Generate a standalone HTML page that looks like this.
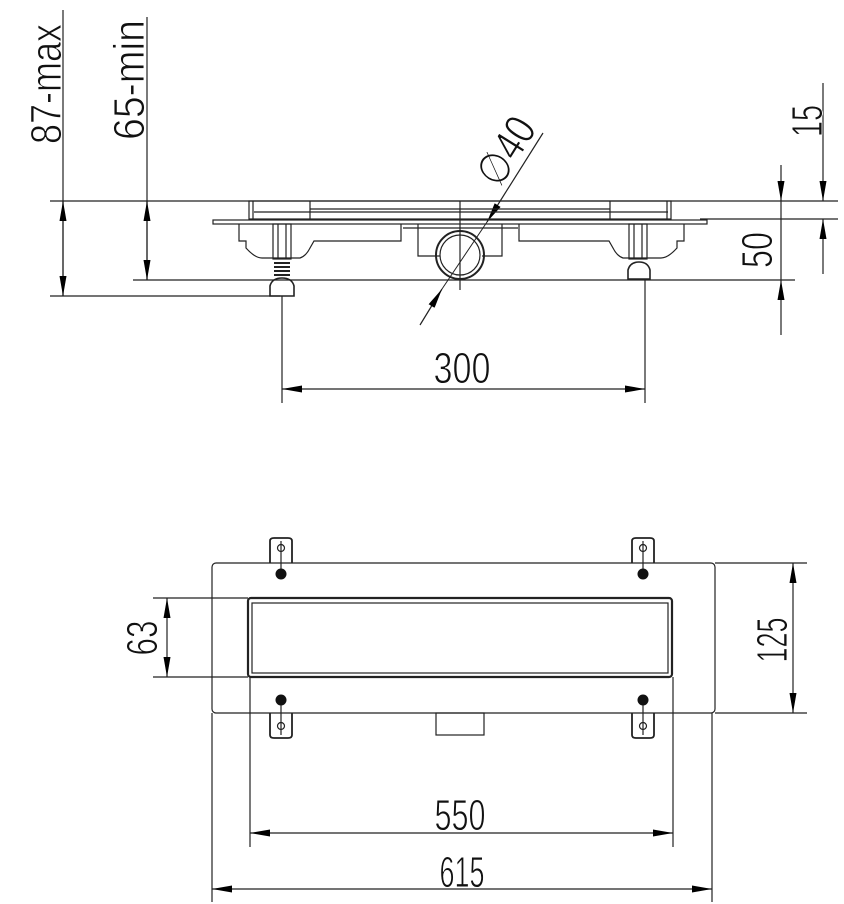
<!DOCTYPE html>
<html><head><meta charset="utf-8"><style>
html,body{margin:0;padding:0;background:#fff;}
svg{display:block;}
text{font-family:"Liberation Sans Narrow","Liberation Sans",sans-serif;fill:#111;stroke:#fff;stroke-width:0.9;}
</style></head><body>
<svg width="844" height="904" viewBox="0 0 844 904" xmlns="http://www.w3.org/2000/svg">
<defs>
<marker id="a" viewBox="0 0 20 7" refX="20" refY="3.5" markerWidth="20" markerHeight="7" markerUnits="userSpaceOnUse" orient="auto-start-reverse">
<path d="M0,0 L20,3.5 L0,7 Z" fill="#000"/></marker>
</defs>
<g stroke="#222" stroke-width="1.2" fill="none">
<line x1="50" y1="201" x2="838" y2="201"/>
<line x1="700" y1="219" x2="838" y2="219"/>
<line x1="50" y1="296" x2="280" y2="296"/>
<line x1="133" y1="280" x2="795" y2="280"/>
<line x1="63" y1="10" x2="63" y2="296"/>
<line x1="147" y1="17" x2="147" y2="280"/>
<line x1="282" y1="296" x2="282" y2="403"/>
<line x1="645" y1="280" x2="645" y2="403"/>
<line x1="63" y1="201" x2="63" y2="296" marker-start="url(#a)" marker-end="url(#a)"/>
<line x1="147" y1="201" x2="147" y2="280" marker-start="url(#a)" marker-end="url(#a)"/>
<line x1="781" y1="165" x2="781" y2="201" marker-end="url(#a)"/>
<line x1="781" y1="201" x2="781" y2="280"/>
<line x1="781" y1="335" x2="781" y2="280" marker-end="url(#a)"/>
<line x1="823" y1="83" x2="823" y2="201" marker-end="url(#a)"/>
<line x1="823" y1="274" x2="823" y2="219" marker-end="url(#a)"/>
<line x1="282" y1="389" x2="645" y2="389" marker-start="url(#a)" marker-end="url(#a)"/>
<line x1="543" y1="133" x2="487" y2="222" marker-end="url(#a)"/>
<line x1="420" y1="325" x2="442" y2="289" marker-end="url(#a)"/>
<line x1="487" y1="222" x2="442" y2="289" stroke-width="1"/>
<rect x="213" y="220" width="494" height="4"/>
<rect x="249" y="201" width="422" height="18"/>
<line x1="253" y1="201" x2="253" y2="219"/>
<line x1="667" y1="201" x2="667" y2="219"/>
<line x1="254" y1="212" x2="668" y2="212"/>
<line x1="310" y1="201" x2="310" y2="219"/>
<line x1="610" y1="201" x2="610" y2="219"/>
<line x1="310" y1="209" x2="610" y2="209"/>
<line x1="460" y1="201" x2="460" y2="290"/>
<path d="M239,224 V241 H246 V248 Q255,258 262,258 H300 Q306,256 310,248 L314,241 H401 V224"/>
<path d="M684,224 V241 H677 V248 Q668,258 661,258 H623 Q617,256 613,248 L609,241 H519 V224"/>
<path d="M418,224 V256 H440 M502,224 V256 H482 M403,228 H518"/>
<rect x="273" y="224" width="18" height="35"/>
<line x1="278" y1="224" x2="278" y2="259"/>
<line x1="286" y1="224" x2="286" y2="259"/>
<rect x="629" y="224" width="18" height="35"/>
<line x1="634" y1="224" x2="634" y2="259"/>
<line x1="642" y1="224" x2="642" y2="259"/>
<path d="M274,263 H290 M274,267 H290 M274,271 H290 M274,275 H290" stroke-width="2"/>
<path d="M270,296 V286 Q272,278 282,278 Q292,278 294,286 V296 Z" stroke-width="1.6"/>
<path d="M628,279 V270 Q630,262 639,262 Q648,262 650,270 V279 Z" stroke-width="1.6"/>
<circle cx="460" cy="255" r="24" stroke-width="2"/>
<circle cx="460" cy="255" r="20"/>
<rect x="212" y="563" width="503" height="150" rx="4"/>
<rect x="248" y="598" width="424" height="79" rx="3" stroke-width="2.2"/>
<rect x="252" y="603" width="416" height="70"/>
<path d="M270,563 V541 Q270,538 274,538 H288 Q292,538 292,541 V563" stroke-width="1.8"/>
<path d="M632,563 V541 Q632,538 636,538 H650 Q654,538 654,541 V563" stroke-width="1.8"/>
<path d="M270,713 V735 Q270,738 274,738 H288 Q292,738 292,735 V713" stroke-width="1.8"/>
<path d="M632,713 V735 Q632,738 636,738 H650 Q654,738 654,735 V713" stroke-width="1.8"/>
<line x1="281" y1="541" x2="281" y2="578"/><line x1="643" y1="541" x2="643" y2="578"/>
<line x1="281" y1="697" x2="281" y2="735"/><line x1="643" y1="697" x2="643" y2="735"/>
<circle cx="281" cy="548" r="3.5"/><circle cx="643" cy="548" r="3.5"/>
<circle cx="281" cy="726" r="3.5"/><circle cx="643" cy="726" r="3.5"/>
<rect x="436" y="713" width="48" height="22"/>
<line x1="153" y1="598" x2="248" y2="598"/>
<line x1="153" y1="677" x2="248" y2="677"/>
<line x1="167" y1="598" x2="167" y2="677" marker-start="url(#a)" marker-end="url(#a)"/>
<line x1="715" y1="563" x2="807" y2="563"/>
<line x1="715" y1="713" x2="807" y2="713"/>
<line x1="793" y1="563" x2="793" y2="713" marker-start="url(#a)" marker-end="url(#a)"/>
<line x1="250" y1="677" x2="250" y2="847"/>
<line x1="673" y1="677" x2="673" y2="847"/>
<line x1="212" y1="713" x2="212" y2="902"/>
<line x1="712" y1="713" x2="712" y2="902"/>
<line x1="250" y1="833" x2="673" y2="833" marker-start="url(#a)" marker-end="url(#a)"/>
<line x1="212" y1="889" x2="712" y2="889" marker-start="url(#a)" marker-end="url(#a)"/>
</g>
<g fill="#111">
<circle cx="281" cy="574" r="5.5"/><circle cx="643" cy="574" r="5.5"/>
<circle cx="281" cy="700" r="5.5"/><circle cx="643" cy="700" r="5.5"/>
</g>
<g font-size="44" text-anchor="middle">
<text transform="translate(61,84) rotate(-90)" textLength="120" lengthAdjust="spacingAndGlyphs">87-max</text>
<text transform="translate(144,80) rotate(-90)" textLength="120" lengthAdjust="spacingAndGlyphs">65-min</text>
<text transform="translate(822,121) rotate(-90)" textLength="32" lengthAdjust="spacingAndGlyphs">15</text>
<text transform="translate(772,250) rotate(-90)" textLength="36" lengthAdjust="spacingAndGlyphs">50</text>
<text transform="translate(157,638) rotate(-90)" textLength="35" lengthAdjust="spacingAndGlyphs">63</text>
<text transform="translate(787,640) rotate(-90)" textLength="45" lengthAdjust="spacingAndGlyphs">125</text>
<text transform="translate(506,151) rotate(-58)" y="15" textLength="72" lengthAdjust="spacingAndGlyphs">∅40</text>
<text x="462" y="383" textLength="57" lengthAdjust="spacingAndGlyphs">300</text>
<text x="460" y="830" textLength="51" lengthAdjust="spacingAndGlyphs">550</text>
<text x="462" y="887" textLength="45" lengthAdjust="spacingAndGlyphs">615</text>
</g>
</svg>
</body></html>
